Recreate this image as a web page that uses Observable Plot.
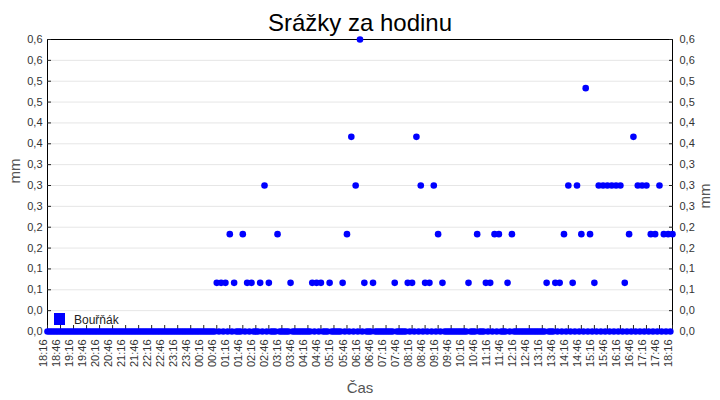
<!DOCTYPE html>
<html><head><meta charset="utf-8">
<script src="https://cdn.jsdelivr.net/npm/d3@7"></script>
<script src="https://cdn.jsdelivr.net/npm/@observablehq/plot@0.6"></script>
<style>
body{margin:0;background:#fff;}
#wrap{position:relative;width:720px;height:400px;font-family:"Liberation Sans",Arial,sans-serif;}
#title{position:absolute;left:0;top:11px;width:720px;text-align:center;font-size:24px;line-height:24px;color:#000;}
#legend .sw{position:absolute;left:54px;top:313px;width:11px;height:12px;background:#0000ff;}
#legend .lbl{position:absolute;left:74px;top:314px;font-size:12px;line-height:12px;color:#222;white-space:nowrap;}
</style></head><body>
<div id="wrap">
  <div id="chart"></div>
  <div id="title">Srážky za hodinu</div>
  <div id="legend"><span class="sw"></span><span class="lbl">Bouřňák</span></div>
</div>
<script>
// ---- data ----
const seriesName = "Bouřňák";
const startTime = "2000-01-01T18:16:00Z"; // first reading
const stepMinutes = 10;                   // readings at :16, :26, :36 ...
const offsetMinutes = 5;                  // intermediate readings at :21, :31 ...
// readings at 18:16, 18:26, ... 18:16 (next day)
const rain = [
  0,0,0,0,0,0,0,0,0,0,
  0,0,0,0,0,0,0,0,0,0,
  0,0,0,0,0,0,0,0,0,0,
  0,0,0,0,0,0,0,0,0,0.1,
  0.1,0.1,0.2,0.1,0,0.2,0.1,0.1,0,0.1,
  0.3,0.1,0,0.2,0,0,0.1,0,0,0,
  0,0.1,0.1,0.1,0,0.1,0,0,0.1,0.2,
  0.4,0.3,0.6,0.1,0,0.1,0,0,0,0,
  0.1,0,0,0.1,0.1,0.4,0.3,0.1,0.1,0.3,
  0.2,0.1,0,0,0,0,0,0.1,0,0.2,
  0,0.1,0.1,0.2,0.2,0,0.1,0.2,0,0,
  0,0,0,0,0,0.1,0,0.1,0.1,0.2,
  0.3,0.1,0.3,0.2,0.5,0.2,0.1,0.3,0.3,0.3,
  0.3,0.3,0.3,0.1,0.2,0.4,0.3,0.3,0.3,0.2,
  0.2,0.3,0.2,0.2,0.2
];
// intermediate readings at 18:21, 18:31, ... 18:11 (all zero)
const rainBetween = [
  0,0,0,0,0,0,0,0,0,0, 0,0,0,0,0,0,0,0,0,0, 0,0,0,0,0,0,0,0,0,0,
  0,0,0,0,0,0,0,0,0,0, 0,0,0,0,0,0,0,0,0,0, 0,0,0,0,0,0,0,0,0,0,
  0,0,0,0,0,0,0,0,0,0, 0,0,0,0,0,0,0,0,0,0, 0,0,0,0,0,0,0,0,0,0,
  0,0,0,0,0,0,0,0,0,0, 0,0,0,0,0,0,0,0,0,0, 0,0,0,0,0,0,0,0,0,0,
  0,0,0,0,0,0,0,0,0,0, 0,0,0,0,0,0,0,0,0,0, 0,0,0,0
];
const xTickLabels = ["18:16","18:46","19:16","19:46","20:16","20:46","21:16","21:46","22:16","22:46",
  "23:16","23:46","00:16","00:46","01:16","01:46","02:16","02:46","03:16","03:46",
  "04:16","04:46","05:16","05:46","06:16","06:46","07:16","07:46","08:16","08:46",
  "09:16","09:46","10:16","10:46","11:16","11:46","12:16","12:46","13:16","13:46",
  "14:16","14:46","15:16","15:46","16:16","16:46","17:16","17:46","18:16"];
const tickStepMinutes = 30;
const yMax = 0.6;
const yTickLabels = ["0,0","0,0","0,1","0,1","0,2","0,2","0,3","0,3","0,3","0,4","0,4","0,5","0,5","0,6","0,6"];
const yAxisTitle = "mm";
const xAxisTitle = "Čas";

// ---- derived tables ----
const t0 = Date.parse(startTime);
const data = [
  ...rainBetween.map((v, i) => ({time: new Date(t0 + (i * stepMinutes + offsetMinutes) * 60000), mm: v})),
  ...rain.map((v, i) => ({time: new Date(t0 + i * stepMinutes * 60000), mm: v}))
];
const tStart = new Date(t0), tEnd = new Date(t0 + (rain.length - 1) * stepMinutes * 60000);
const xTicks = xTickLabels.map((_, i) => new Date(t0 + i * tickStepMinutes * 60000));
const xLabelOf = new Map(xTicks.map((d, i) => [+d, xTickLabels[i]]));
const yTicks = yTickLabels.map((_, i) => i * yMax / (yTickLabels.length - 1));
const yLabelOf = new Map(yTicks.map((d, i) => [d, yTickLabels[i]]));

const chart = Plot.plot({
  width: 720, height: 400,
  marginTop: 39, marginBottom: 69, marginLeft: 47, marginRight: 48,
  style: {fontFamily: "'Liberation Sans', Arial, sans-serif", fontSize: "11px", color: "#333", background: "#fff"},
  x: {type: "utc", domain: [tStart, tEnd]},
  y: {domain: [0, yMax]},
  marks: [
    Plot.gridY({ticks: yTicks.slice(0, -1), stroke: "#e6e6e6", strokeOpacity: 1}),
    Plot.frame({stroke: "black"}),
    Plot.axisY({anchor: "left", ticks: yTicks, tickSize: -4, tickFormat: () => "", label: null, stroke: "#222"}),
    Plot.axisY({anchor: "right", ticks: yTicks, tickSize: -4, tickFormat: () => "", label: null, stroke: "#222"}),
    Plot.axisY({anchor: "left", ticks: yTicks, tickSize: 0, tickPadding: 5, tickFormat: d => yLabelOf.get(d), label: null, fill: "#333"}),
    Plot.axisY({anchor: "right", ticks: yTicks, tickSize: 0, tickPadding: 7, tickFormat: d => yLabelOf.get(d), label: null, fill: "#333"}),
    Plot.axisX({ticks: xTicks, tickSize: -6, tickFormat: () => "", label: null, stroke: "#222"}),
    Plot.axisX({ticks: xTicks, tickSize: 0, tickRotate: -90, tickPadding: 8, dx: -4, tickFormat: d => xLabelOf.get(+d), label: null, fill: "#333"}),
    Plot.text([yAxisTitle], {text: d => d, frameAnchor: "left", rotate: -90, dx: -32, dy: -2, fontSize: 15, fill: "#555"}),
    Plot.text([yAxisTitle], {text: d => d, frameAnchor: "right", rotate: -90, dx: 33, dy: -2, fontSize: 15, fill: "#555"}),
    Plot.text([xAxisTitle], {text: d => d, frameAnchor: "bottom", lineAnchor: "bottom", dy: 61, fontSize: 15, fill: "#555"}),
    Plot.dot(data, {x: "time", y: "mm", r: 3.3, fill: "#0000ff", stroke: null, title: d => seriesName})
  ]
});
document.getElementById("chart").appendChild(chart);
</script>
</body></html>
